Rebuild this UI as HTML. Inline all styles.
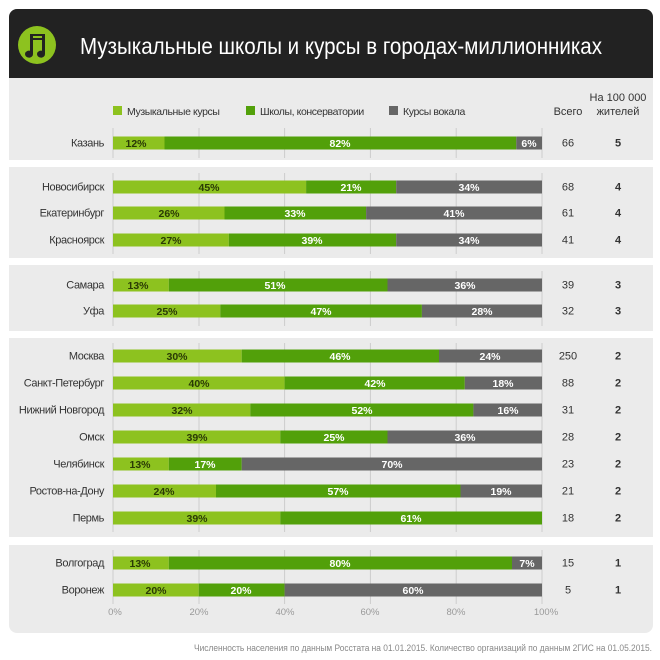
<!DOCTYPE html>
<html><head><meta charset="utf-8"><style>
html,body{margin:0;padding:0;background:#fff;width:660px;height:660px;overflow:hidden}
svg{display:block}
text{font-family:"Liberation Sans",sans-serif}
.c{font-size:11px;fill:#333;text-anchor:end;letter-spacing:-0.4px}
.p{font-size:10.5px;font-weight:bold;text-anchor:middle}
.d{fill:#2a3a05}.w{fill:#fff}
.n{font-size:11px;fill:#333;text-anchor:middle}
.nb{font-size:11px;font-weight:bold;fill:#333;text-anchor:middle}
.ax{font-size:9.5px;fill:#999;text-anchor:middle}
.lg{font-size:10.5px;fill:#333;letter-spacing:-0.4px}
</style></head><body>
<svg width="660" height="660" viewBox="0 0 660 660" xmlns="http://www.w3.org/2000/svg">
<rect x="9" y="9" width="644" height="624" rx="8" fill="#ebebeb"/>
<path d="M9 78 V17 a8 8 0 0 1 8 -8 H645 a8 8 0 0 1 8 8 V78 Z" fill="#222"/>
<circle cx="37" cy="45" r="19" fill="#8dc21f"/>
<path d="M30 34 h15 v20 a4 3.5 0 1 1 -3 -3.2 V40 h-9 v14 a4 3.5 0 1 1 -3 -3.2 Z M33 36 v2 h9 v-2 Z" fill="#222"/>
<text x="80" y="54" font-size="23" fill="#fff" textLength="522" lengthAdjust="spacingAndGlyphs">Музыкальные школы и курсы в городах-миллионниках</text>
<rect x="9" y="160" width="644" height="7" fill="#fff"/>
<rect x="9" y="258" width="644" height="7" fill="#fff"/>
<rect x="9" y="331" width="644" height="7" fill="#fff"/>
<rect x="9" y="537" width="644" height="8" fill="#fff"/>
<rect x="113" y="106" width="9" height="9" fill="#8dc21f"/><text x="127" y="115" class="lg">Музыкальные курсы</text>
<rect x="246" y="106" width="9" height="9" fill="#52a00a"/><text x="260" y="115" class="lg">Школы, консерватории</text>
<rect x="389" y="106" width="9" height="9" fill="#666"/><text x="403" y="115" class="lg">Курсы вокала</text>
<text x="568" y="115" class="n" font-size="10">Всего</text>
<text x="618" y="101" class="n" font-size="10">На 100 000</text>
<text x="618" y="115" class="n" font-size="10">жителей</text>
<g stroke="#ccc" stroke-width="1">
<path d="M113 128V158M199 128V158M284.6 128V158M370.4 128V158M456.2 128V158M542 128V158"/>
<path d="M113 173V254M199 173V254M284.6 173V254M370.4 173V254M456.2 173V254M542 173V254"/>
<path d="M113 271V326M199 271V326M284.6 271V326M370.4 271V326M456.2 271V326M542 271V326"/>
<path d="M113 343V532M199 343V532M284.6 343V532M370.4 343V532M456.2 343V532M542 343V532"/>
<path d="M113 550V604M199 550V604M284.6 550V604M370.4 550V604M456.2 550V604M542 550V604"/>
</g>
<g id="rows">
<g transform="translate(0,136.5)">
<rect x="113" width="51.5" height="13" fill="#8dc21f"/><rect x="164.5" width="351.8" height="13" fill="#52a00a"/><rect x="516.3" width="25.7" height="13" fill="#666"/>
<text x="104" y="10" class="c">Казань</text><text x="136" y="10.5" class="p d">12%</text><text x="340" y="10.5" class="p w">82%</text><text x="529" y="10.5" class="p w">6%</text>
<text x="568" y="10" class="n">66</text><text x="618" y="10" class="nb">5</text></g>
<g transform="translate(0,180.5)">
<rect x="113" width="193.1" height="13" fill="#8dc21f"/><rect x="306.1" width="90.1" height="13" fill="#52a00a"/><rect x="396.2" width="145.8" height="13" fill="#666"/>
<text x="104" y="10" class="c">Новосибирск</text><text x="209" y="10.5" class="p d">45%</text><text x="351" y="10.5" class="p w">21%</text><text x="469" y="10.5" class="p w">34%</text>
<text x="568" y="10" class="n">68</text><text x="618" y="10" class="nb">4</text></g>
<g transform="translate(0,206.5)">
<rect x="113" width="111.5" height="13" fill="#8dc21f"/><rect x="224.5" width="141.6" height="13" fill="#52a00a"/><rect x="366.1" width="175.9" height="13" fill="#666"/>
<text x="104" y="10" class="c">Екатеринбург</text><text x="169" y="10.5" class="p d">26%</text><text x="295" y="10.5" class="p w">33%</text><text x="454" y="10.5" class="p w">41%</text>
<text x="568" y="10" class="n">61</text><text x="618" y="10" class="nb">4</text></g>
<g transform="translate(0,233.5)">
<rect x="113" width="115.8" height="13" fill="#8dc21f"/><rect x="228.8" width="167.4" height="13" fill="#52a00a"/><rect x="396.2" width="145.8" height="13" fill="#666"/>
<text x="104" y="10" class="c">Красноярск</text><text x="171" y="10.5" class="p d">27%</text><text x="312" y="10.5" class="p w">39%</text><text x="469" y="10.5" class="p w">34%</text>
<text x="568" y="10" class="n">41</text><text x="618" y="10" class="nb">4</text></g>
<g transform="translate(0,278.5)">
<rect x="113" width="55.8" height="13" fill="#8dc21f"/><rect x="168.8" width="218.7" height="13" fill="#52a00a"/><rect x="387.5" width="154.5" height="13" fill="#666"/>
<text x="104" y="10" class="c">Самара</text><text x="138" y="10.5" class="p d">13%</text><text x="275" y="10.5" class="p w">51%</text><text x="465" y="10.5" class="p w">36%</text>
<text x="568" y="10" class="n">39</text><text x="618" y="10" class="nb">3</text></g>
<g transform="translate(0,304.5)">
<rect x="113" width="107.3" height="13" fill="#8dc21f"/><rect x="220.3" width="201.6" height="13" fill="#52a00a"/><rect x="421.9" width="120.1" height="13" fill="#666"/>
<text x="104" y="10" class="c">Уфа</text><text x="167" y="10.5" class="p d">25%</text><text x="321" y="10.5" class="p w">47%</text><text x="482" y="10.5" class="p w">28%</text>
<text x="568" y="10" class="n">32</text><text x="618" y="10" class="nb">3</text></g>
<g transform="translate(0,349.5)">
<rect x="113" width="128.7" height="13" fill="#8dc21f"/><rect x="241.7" width="197.3" height="13" fill="#52a00a"/><rect x="439" width="103" height="13" fill="#666"/>
<text x="104" y="10" class="c">Москва</text><text x="177" y="10.5" class="p d">30%</text><text x="340" y="10.5" class="p w">46%</text><text x="490" y="10.5" class="p w">24%</text>
<text x="568" y="10" class="n">250</text><text x="618" y="10" class="nb">2</text></g>
<g transform="translate(0,376.5)">
<rect x="113" width="171.6" height="13" fill="#8dc21f"/><rect x="284.6" width="180.2" height="13" fill="#52a00a"/><rect x="464.8" width="77.2" height="13" fill="#666"/>
<text x="104" y="10" class="c">Санкт-Петербург</text><text x="199" y="10.5" class="p d">40%</text><text x="375" y="10.5" class="p w">42%</text><text x="503" y="10.5" class="p w">18%</text>
<text x="568" y="10" class="n">88</text><text x="618" y="10" class="nb">2</text></g>
<g transform="translate(0,403.5)">
<rect x="113" width="137.3" height="13" fill="#8dc21f"/><rect x="250.3" width="223.1" height="13" fill="#52a00a"/><rect x="473.4" width="68.6" height="13" fill="#666"/>
<text x="104" y="10" class="c">Нижний Новгород</text><text x="182" y="10.5" class="p d">32%</text><text x="362" y="10.5" class="p w">52%</text><text x="508" y="10.5" class="p w">16%</text>
<text x="568" y="10" class="n">31</text><text x="618" y="10" class="nb">2</text></g>
<g transform="translate(0,430.5)">
<rect x="113" width="167.3" height="13" fill="#8dc21f"/><rect x="280.3" width="107.2" height="13" fill="#52a00a"/><rect x="387.5" width="154.5" height="13" fill="#666"/>
<text x="104" y="10" class="c">Омск</text><text x="197" y="10.5" class="p d">39%</text><text x="334" y="10.5" class="p w">25%</text><text x="465" y="10.5" class="p w">36%</text>
<text x="568" y="10" class="n">28</text><text x="618" y="10" class="nb">2</text></g>
<g transform="translate(0,457.5)">
<rect x="113" width="55.8" height="13" fill="#8dc21f"/><rect x="168.8" width="72.9" height="13" fill="#52a00a"/><rect x="241.7" width="300.3" height="13" fill="#666"/>
<text x="104" y="10" class="c">Челябинск</text><text x="140" y="10.5" class="p d">13%</text><text x="205" y="10.5" class="p w">17%</text><text x="392" y="10.5" class="p w">70%</text>
<text x="568" y="10" class="n">23</text><text x="618" y="10" class="nb">2</text></g>
<g transform="translate(0,484.5)">
<rect x="113" width="103" height="13" fill="#8dc21f"/><rect x="216" width="244.5" height="13" fill="#52a00a"/><rect x="460.5" width="81.5" height="13" fill="#666"/>
<text x="104" y="10" class="c">Ростов-на-Дону</text><text x="164" y="10.5" class="p d">24%</text><text x="338" y="10.5" class="p w">57%</text><text x="501" y="10.5" class="p w">19%</text>
<text x="568" y="10" class="n">21</text><text x="618" y="10" class="nb">2</text></g>
<g transform="translate(0,511.5)">
<rect x="113" width="167.3" height="13" fill="#8dc21f"/><rect x="280.3" width="261.7" height="13" fill="#52a00a"/>
<text x="104" y="10" class="c">Пермь</text><text x="197" y="10.5" class="p d">39%</text><text x="411" y="10.5" class="p w">61%</text>
<text x="568" y="10" class="n">18</text><text x="618" y="10" class="nb">2</text></g>
<g transform="translate(0,556.5)">
<rect x="113" width="55.8" height="13" fill="#8dc21f"/><rect x="168.8" width="343.2" height="13" fill="#52a00a"/><rect x="512" width="30" height="13" fill="#666"/>
<text x="104" y="10" class="c">Волгоград</text><text x="140" y="10.5" class="p d">13%</text><text x="340" y="10.5" class="p w">80%</text><text x="527" y="10.5" class="p w">7%</text>
<text x="568" y="10" class="n">15</text><text x="618" y="10" class="nb">1</text></g>
<g transform="translate(0,583.5)">
<rect x="113" width="85.8" height="13" fill="#8dc21f"/><rect x="198.8" width="85.8" height="13" fill="#52a00a"/><rect x="284.6" width="257.4" height="13" fill="#666"/>
<text x="104" y="10" class="c">Воронеж</text><text x="156" y="10.5" class="p d">20%</text><text x="241" y="10.5" class="p w">20%</text><text x="413" y="10.5" class="p w">60%</text>
<text x="568" y="10" class="n">5</text><text x="618" y="10" class="nb">1</text></g>
</g>
<text x="115" y="615" class="ax">0%</text><text x="199" y="615" class="ax">20%</text><text x="285" y="615" class="ax">40%</text><text x="370" y="615" class="ax">60%</text><text x="456" y="615" class="ax">80%</text><text x="546" y="615" class="ax">100%</text>
<text x="652" y="651" font-size="9" fill="#888" text-anchor="end" textLength="458" lengthAdjust="spacingAndGlyphs">Численность населения по данным Росстата на 01.01.2015. Количество организаций по данным 2ГИС на 01.05.2015.</text>
</svg>
</body></html>
